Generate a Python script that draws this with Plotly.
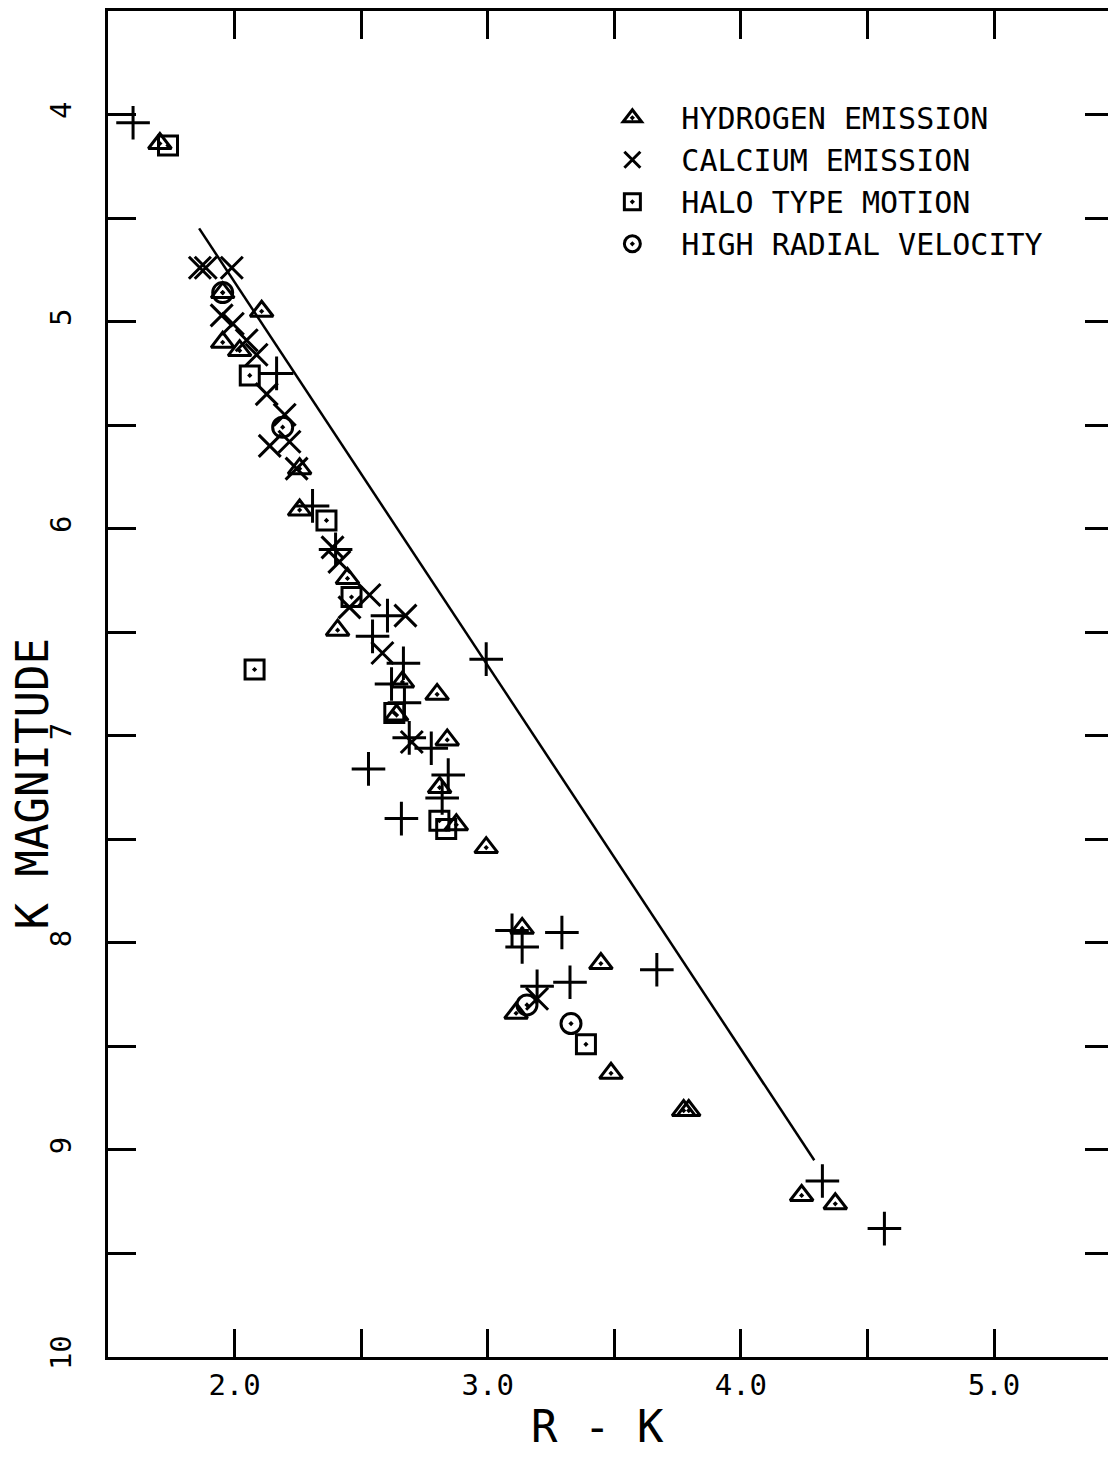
import plotly.graph_objects as go

# ---- data (R-K colour, K magnitude) ----
hyd_x = [1.705, 1.953, 2.107, 1.953, 2.02, 2.257, 2.257, 2.446, 2.407, 2.663, 2.80, 2.64, 2.84, 2.81, 2.876,
         2.994, 3.136, 3.447, 3.112, 3.487, 3.774, 3.794, 4.24, 4.373]
hyd_y = [4.14, 4.86, 4.95, 5.10, 5.14, 5.71, 5.91, 6.24, 6.49, 6.74, 6.80, 6.90, 7.02, 7.25, 7.43,
         7.54, 7.93, 8.10, 8.34, 8.63, 8.81, 8.81, 9.22, 9.26]

ca_x = [1.863, 1.886, 1.989, 1.949, 1.993, 2.048, 2.087, 2.127, 2.198, 2.139, 2.217, 2.245, 2.387, 2.414,
        2.533, 2.454, 2.675, 2.584, 2.70, 3.195]
ca_y = [4.74, 4.74, 4.74, 4.97, 5.01, 5.09, 5.16, 5.35, 5.45, 5.60, 5.58, 5.71, 6.09, 6.16,
        6.32, 6.38, 6.42, 6.60, 7.03, 8.27]

halo_x = [1.737, 2.06, 2.363, 2.462, 2.079, 2.631, 2.809, 2.836, 3.388]
halo_y = [4.15, 5.26, 5.96, 6.33, 6.68, 6.89, 7.41, 7.45, 8.49]

rv_x = [1.953, 2.19, 3.155, 3.329]
rv_y = [4.86, 5.51, 8.30, 8.39]

other_x = [1.599, 2.166, 2.308, 2.399, 2.604, 2.545, 2.667, 2.62, 2.671, 2.994, 2.69, 2.777, 2.844, 2.529,
           2.659, 2.82, 3.096, 3.136, 3.293, 3.195, 3.325, 3.668, 4.322, 4.567]
other_y = [4.04, 5.25, 5.89, 6.10, 6.42, 6.52, 6.65, 6.75, 6.84, 6.63, 7.01, 7.06, 7.19, 7.16,
           7.40, 7.30, 7.94, 8.02, 7.95, 8.21, 8.19, 8.13, 9.15, 9.38]

line_x = [1.86, 4.29]
line_y = [4.55, 9.05]

x_ticks = [2.0, 3.0, 4.0, 5.0]
x_ticklabels = ["2.0", "3.0", "4.0", "5.0"]
y_ticks = [4, 5, 6, 7, 8, 9, 10]
y_ticklabels = ["4", "5", "6", "7", "8", "9", "10"]

FONT = "DejaVu Sans Mono"
BLK = "black"

fig = go.Figure()

fig.add_trace(go.Scatter(x=line_x, y=line_y, mode="lines", line=dict(color=BLK, width=2.5),
                         showlegend=False, hoverinfo="skip"))
fig.add_trace(go.Scatter(x=other_x, y=other_y, mode="markers", showlegend=False,
                         marker=dict(symbol="cross-thin-open", size=24, color=BLK,
                                     line=dict(color=BLK, width=3))))

def mk(symbol, size):
    return dict(symbol=symbol, size=size, color=BLK, line=dict(color=BLK, width=3))

fig.add_trace(go.Scatter(x=hyd_x, y=hyd_y, mode="markers", name="HYDROGEN EMISSION",
                         marker=mk("triangle-up-open-dot", 20)))
fig.add_trace(go.Scatter(x=ca_x, y=ca_y, mode="markers", name="CALCIUM EMISSION",
                         marker=mk("x-thin-open", 22)))
fig.add_trace(go.Scatter(x=halo_x, y=halo_y, mode="markers", name="HALO TYPE MOTION",
                         marker=mk("square-open-dot", 19)))
fig.add_trace(go.Scatter(x=rv_x, y=rv_y, mode="markers", name="HIGH RADIAL VELOCITY",
                         marker=mk("circle-open-dot", 20)))

axis_common = dict(showgrid=False, zeroline=False, showline=True, linecolor=BLK, linewidth=3,
                   mirror="ticks", ticks="inside", ticklen=28, tickwidth=2.5, tickcolor=BLK,
                   tickfont=dict(family=FONT, size=29, color=BLK))

fig.update_layout(
    width=1108, height=1450,
    margin=dict(l=100, r=0, t=0, b=101),
    paper_bgcolor="white", plot_bgcolor="white",
    font=dict(family=FONT, color=BLK),
    xaxis=dict(range=[1.5, 5.47], tickvals=x_ticks, ticktext=x_ticklabels,
               minor=dict(ticks="inside", ticklen=28, tickwidth=2.5, tickcolor=BLK, tickvals=[2.5, 3.5, 4.5]),
               **axis_common),
    yaxis=dict(range=[10, 3.5], tickvals=y_ticks, ticktext=y_ticklabels, tickangle=-90,
               ticklabelstandoff=22,
               minor=dict(ticks="inside", ticklen=28, tickwidth=2.5, tickcolor=BLK,
                          tickvals=[4.5, 5.5, 6.5, 7.5, 8.5, 9.5]),
               **axis_common),
    legend=dict(x=0.473, y=0.94, xanchor="left", yanchor="top", bgcolor="rgba(0,0,0,0)",
                font=dict(family=FONT, size=30, color=BLK), itemwidth=88, tracegroupgap=0),
    showlegend=True,
)

fig.add_annotation(text="R - K", xref="paper", yref="paper", x=0.487, y=-0.052, xanchor="center",
                   yanchor="middle", showarrow=False, font=dict(family=FONT, size=44, color=BLK))
fig.add_annotation(text="K MAGNITUDE", xref="paper", yref="paper", x=-0.0754, y=0.4255, xanchor="center",
                   yanchor="middle", textangle=-90, showarrow=False,
                   font=dict(family=FONT, size=44, color=BLK))

fig.write_html("out.html")
